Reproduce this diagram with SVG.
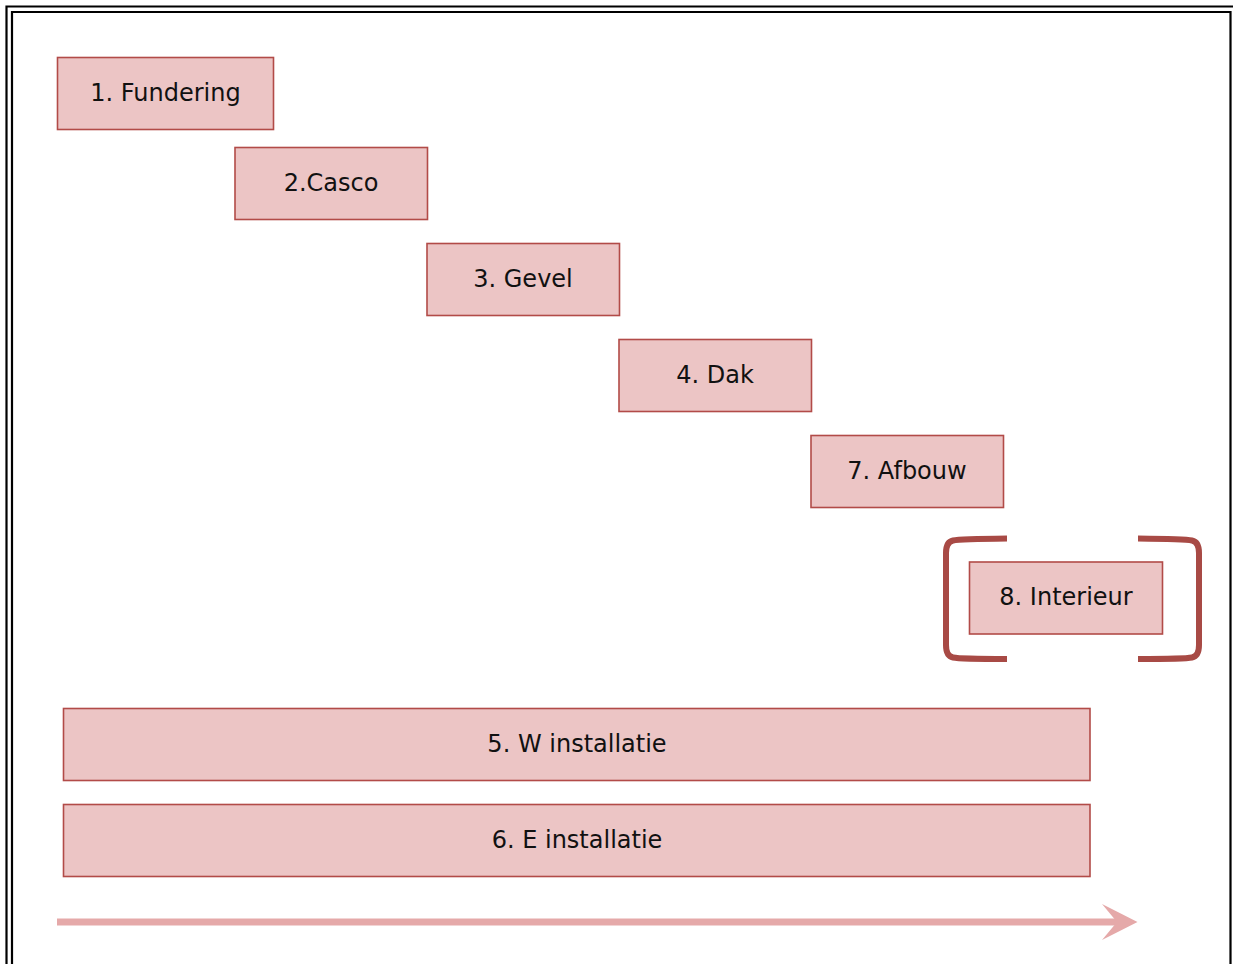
<svg xmlns="http://www.w3.org/2000/svg" width="1233" height="964" viewBox="0 0 1233 964">
<style>
.box{fill:#ECC5C5;stroke:#B24B48;stroke-width:1.6}
.lbl{font-family:"DejaVu Sans",Verdana,sans-serif;font-size:24px;fill:#111;text-anchor:middle;dominant-baseline:central}
.frame{fill:none;stroke:#000;stroke-width:2.2}
.brk{fill:none;stroke:#A84A45;stroke-width:6;stroke-linecap:butt}
</style>
<rect width="1233" height="964" fill="#fff"/>
<g id="frame">
<path class="frame" d="M6.5,964 V6.5 H1236"/>
<path class="frame" d="M12,964 V12 H1230.5 V964"/>
</g>
<g id="n1"><rect class="box" x="57.5" y="57.5" width="216" height="72"/><text class="lbl" x="165.5" y="92.5">1. Fundering</text></g>
<g id="n2"><rect class="box" x="235" y="147.5" width="192.5" height="72"/><text class="lbl" x="331" y="182.5">2.Casco</text></g>
<g id="n3"><rect class="box" x="427" y="243.5" width="192.5" height="72"/><text class="lbl" x="523" y="278.5">3. Gevel</text></g>
<g id="n4"><rect class="box" x="619" y="339.5" width="192.5" height="72"/><text class="lbl" x="715" y="374.5">4. Dak</text></g>
<g id="n7"><rect class="box" x="811" y="435.5" width="192.5" height="72"/><text class="lbl" x="907" y="470.5">7. Afbouw</text></g>
<g id="n8"><rect class="box" x="969.5" y="562" width="193" height="72"/><text class="lbl" x="1066" y="597">8. Interieur</text>
<path class="brk" d="M1007,538.5 Q960,539 953,540.5 Q946,542 946,553 V645 Q946,656 953,657.5 Q960,659 1007,659"/>
<path class="brk" d="M1138,538.5 Q1185,539 1192,540.5 Q1199,542 1199,553 V645 Q1199,656 1192,657.5 Q1185,659 1138,659"/>
</g>
<g id="n5"><rect class="box" x="63.5" y="708.5" width="1026.5" height="72"/><text class="lbl" x="577" y="743.5">5. W installatie</text></g>
<g id="n6"><rect class="box" x="63.5" y="804.5" width="1026.5" height="72"/><text class="lbl" x="577" y="839.5">6. E installatie</text></g>
<g id="connectors">
<line x1="57" y1="922" x2="1118" y2="922" stroke="#E5A9A9" stroke-width="7"/>
<path d="M1102,904 L1137.5,922 L1102,940 L1117,922 Z" fill="#E5A9A9"/>
</g>
</svg>
